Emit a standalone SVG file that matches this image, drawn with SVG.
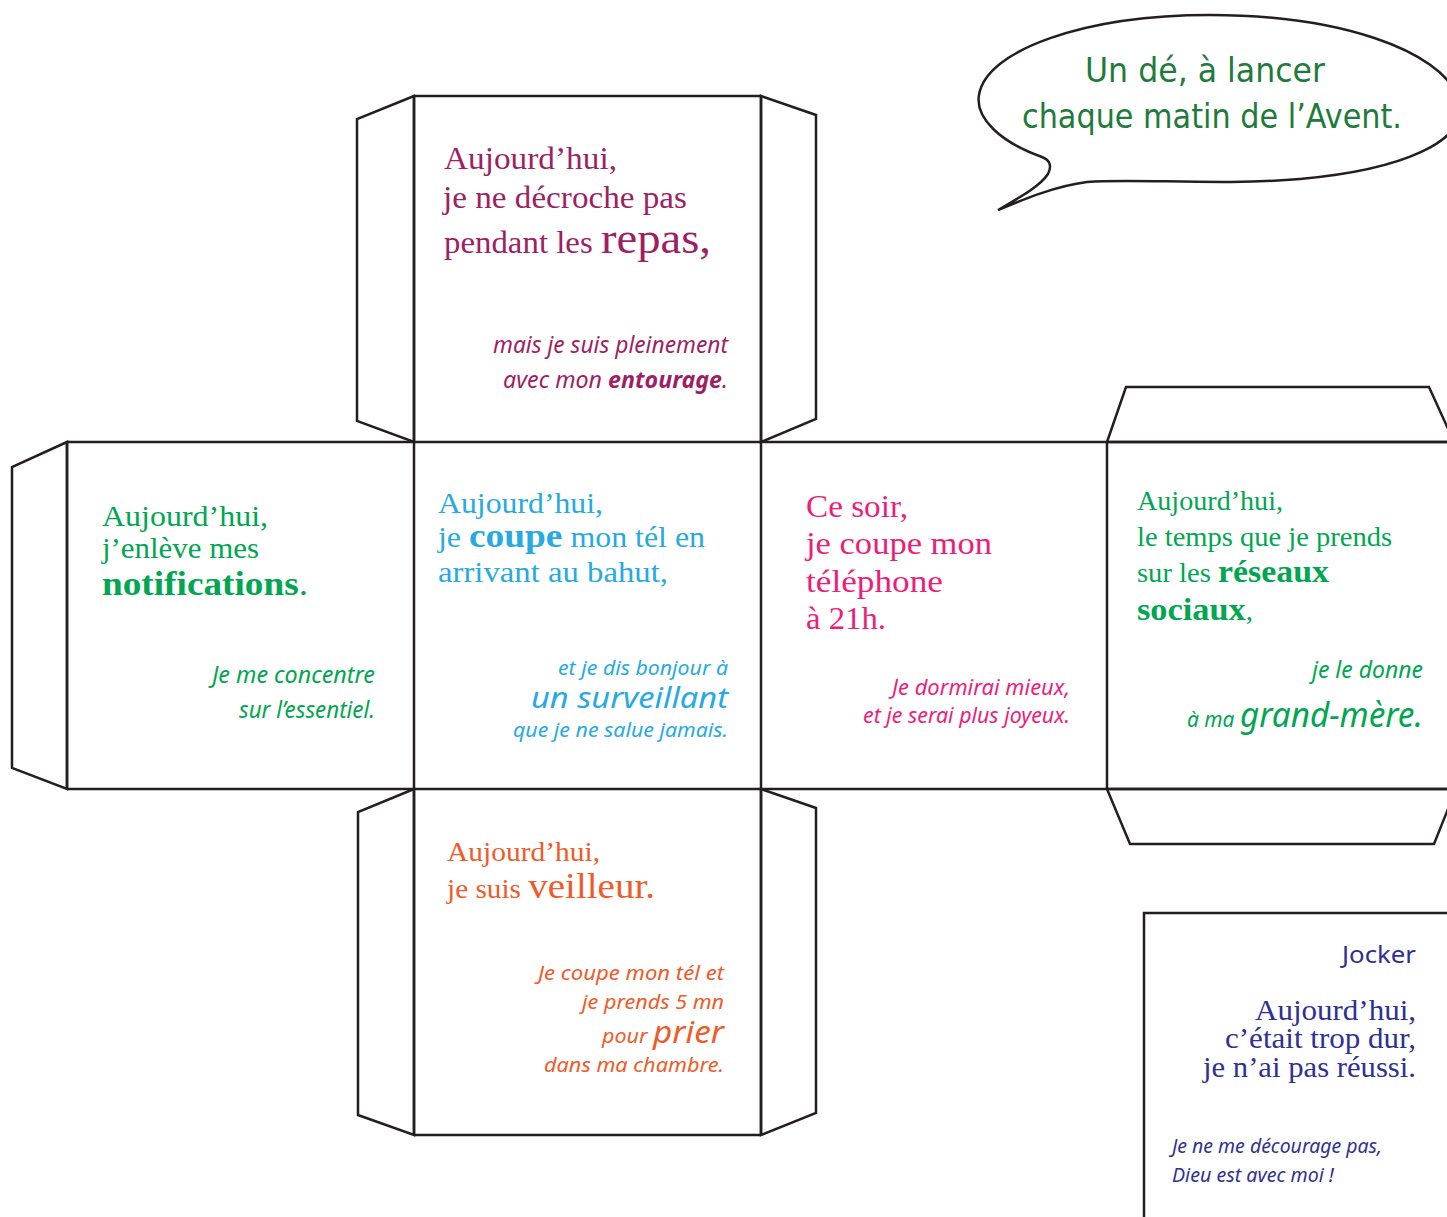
<svg xmlns="http://www.w3.org/2000/svg" width="1447" height="1217" viewBox="0 0 1447 1217">
<style>
.ln{fill:none;stroke:#231f20;stroke-width:2.5;stroke-linejoin:miter}
.tab{fill:#fff;stroke:#231f20;stroke-width:2.5;stroke-linejoin:miter}
.sr{font-family:"Liberation Serif",serif}
.it{font-family:"Noto Sans","Liberation Sans",sans-serif;font-style:italic}
.sa{font-family:"Noto Sans","Liberation Sans",sans-serif}
.b{font-weight:bold}
.hw{font-family:"DejaVu Sans","Liberation Sans",sans-serif;fill:#1e7b3c}
</style>
<rect width="1447" height="1217" fill="#fff"/>

<g id="bubble">
<path class="tab" d="M1042,157 C1000,142 975,118 979,95 C986,50 1085,15 1210,15 C1335,15 1440,48 1460,100 C1470,142 1400,170 1300,179 C1220,186 1135,178 1087,182 C1055,186 1022,200 998,210 C1022,196 1040,186 1048,174 C1052,166 1050,160 1042,157 Z"/>
<text class="hw" x="1085" y="82" font-size="33" textLength="240" lengthAdjust="spacingAndGlyphs">Un dé, à lancer</text>
<text class="hw" x="1022" y="128" font-size="33" textLength="380" lengthAdjust="spacingAndGlyphs">chaque matin de l’Avent.</text>
</g>

<g id="cube-lines">
<polygon class="tab" points="414,96 357,119 357,421 414,442"/>
<polygon class="tab" points="761,96 816,115 816,419 761,442"/>
<polygon class="tab" points="67,442 12,467 12,768 67,789"/>
<polygon class="tab" points="414,789 358,812 358,1115 414,1135"/>
<polygon class="tab" points="761,789 816,808 816,1113 761,1135"/>
<polygon class="tab" points="1107,442 1126,387 1429,387 1454,442"/>
<polygon class="tab" points="1107,789 1130,844 1434,844 1456,789"/>
<path class="ln" d="M414,96 H761 M67,442 H1447 M67,789 H1447 M414,1135 H761 M414,96 V1135 M761,96 V1135 M67,442 V789 M1107,442 V789"/>
</g>

<g id="face-top" fill="#9e1f63">
<text class="sr" x="444" y="169" font-size="31" textLength="173" lengthAdjust="spacingAndGlyphs">Aujourd’hui,</text>
<text class="sr" x="443" y="208" font-size="31" textLength="244" lengthAdjust="spacingAndGlyphs">je ne décroche pas</text>
<text class="sr" x="444" y="253" font-size="31" textLength="267" lengthAdjust="spacingAndGlyphs">pendant les <tspan font-size="44">repas,</tspan></text>
<text class="it" x="493" y="353" font-size="23" textLength="235" lengthAdjust="spacingAndGlyphs">mais je suis pleinement</text>
<text class="it" x="503" y="388" font-size="23" textLength="225" lengthAdjust="spacingAndGlyphs">avec mon <tspan class="b">entourage</tspan>.</text>
</g>

<g id="face-left" fill="#00a651">
<text class="sr" x="102" y="526" font-size="29" textLength="166" lengthAdjust="spacingAndGlyphs">Aujourd’hui,</text>
<text class="sr" x="102" y="558" font-size="29" textLength="157" lengthAdjust="spacingAndGlyphs">j’enlève mes</text>
<text class="sr" x="102" y="595" font-size="33" textLength="206" lengthAdjust="spacingAndGlyphs"><tspan class="b">notifications</tspan>.</text>
<text class="it" x="212" y="683" font-size="23" textLength="163" lengthAdjust="spacingAndGlyphs">Je me concentre</text>
<text class="it" x="239" y="718" font-size="23" textLength="136" lengthAdjust="spacingAndGlyphs">sur l’essentiel.</text>
</g>

<g id="face-center" fill="#27aae1">
<text class="sr" x="438" y="513" font-size="29" textLength="165" lengthAdjust="spacingAndGlyphs">Aujourd’hui,</text>
<text class="sr" x="438" y="547" font-size="29" textLength="267" lengthAdjust="spacingAndGlyphs">je <tspan class="b" font-size="34">coupe</tspan> mon tél en</text>
<text class="sr" x="438" y="582" font-size="29" textLength="230" lengthAdjust="spacingAndGlyphs">arrivant au bahut,</text>
<text class="it" x="558" y="675" font-size="20" textLength="170" lengthAdjust="spacingAndGlyphs">et je dis bonjour à</text>
<text class="it" x="531" y="708" font-size="29" textLength="197" lengthAdjust="spacingAndGlyphs">un surveillant</text>
<text class="it" x="513" y="737" font-size="20" textLength="215" lengthAdjust="spacingAndGlyphs">que je ne salue jamais.</text>
</g>

<g id="face-right1" fill="#ed1e79">
<text class="sr" x="806" y="517" font-size="31" textLength="102" lengthAdjust="spacingAndGlyphs">Ce soir,</text>
<text class="sr" x="806" y="554" font-size="31" textLength="186" lengthAdjust="spacingAndGlyphs">je coupe mon</text>
<text class="sr" x="806" y="592" font-size="31" textLength="137" lengthAdjust="spacingAndGlyphs">téléphone</text>
<text class="sr" x="806" y="629" font-size="31" textLength="80" lengthAdjust="spacingAndGlyphs">à 21h.</text>
<text class="it" x="892" y="695" font-size="21" textLength="178" lengthAdjust="spacingAndGlyphs">Je dormirai mieux,</text>
<text class="it" x="863" y="723" font-size="21" textLength="207" lengthAdjust="spacingAndGlyphs">et je serai plus joyeux.</text>
</g>

<g id="face-right2" fill="#00a651">
<text class="sr" x="1137" y="510" font-size="27" textLength="146" lengthAdjust="spacingAndGlyphs">Aujourd’hui,</text>
<text class="sr" x="1137" y="546" font-size="27" textLength="255" lengthAdjust="spacingAndGlyphs">le temps que je prends</text>
<text class="sr" x="1137" y="582" font-size="27" textLength="192" lengthAdjust="spacingAndGlyphs">sur les <tspan class="b" font-size="32">réseaux</tspan></text>
<text class="sr" x="1137" y="620" font-size="27" textLength="116" lengthAdjust="spacingAndGlyphs"><tspan class="b" font-size="32">sociaux</tspan>,</text>
<text class="it" x="1312" y="678" font-size="23" textLength="111" lengthAdjust="spacingAndGlyphs">je le donne</text>
<text class="it" x="1187" y="727" font-size="22" textLength="236" lengthAdjust="spacingAndGlyphs">à ma <tspan font-size="35">grand-mère.</tspan></text>
</g>

<g id="face-bottom" fill="#f15a29">
<text class="sr" x="447" y="861" font-size="27" textLength="153" lengthAdjust="spacingAndGlyphs">Aujourd’hui,</text>
<text class="sr" x="447" y="898" font-size="27" textLength="208" lengthAdjust="spacingAndGlyphs">je suis <tspan font-size="36">veilleur.</tspan></text>
<text class="it" x="538" y="980" font-size="20" textLength="186" lengthAdjust="spacingAndGlyphs">Je coupe mon tél et</text>
<text class="it" x="582" y="1009" font-size="20" textLength="142" lengthAdjust="spacingAndGlyphs">je prends 5 mn</text>
<text class="it" x="602" y="1043" font-size="20" textLength="122" lengthAdjust="spacingAndGlyphs">pour <tspan font-size="31">prier</tspan></text>
<text class="it" x="544" y="1072" font-size="20" textLength="180" lengthAdjust="spacingAndGlyphs">dans ma chambre.</text>
</g>

<g id="jocker" fill="#2e3192">
<path class="ln" d="M1144,1220 V913 H1450"/>
<text class="sa" x="1342" y="963" font-size="24" textLength="74" lengthAdjust="spacingAndGlyphs">Jocker</text>
<text class="sr" x="1255" y="1020" font-size="29" textLength="161" lengthAdjust="spacingAndGlyphs">Aujourd’hui,</text>
<text class="sr" x="1225" y="1048" font-size="29" textLength="191" lengthAdjust="spacingAndGlyphs">c’était trop dur,</text>
<text class="sr" x="1203" y="1077" font-size="29" textLength="213" lengthAdjust="spacingAndGlyphs">je n’ai pas réussi.</text>
<text class="it" x="1172" y="1153" font-size="19" textLength="210" lengthAdjust="spacingAndGlyphs">Je ne me décourage pas,</text>
<text class="it" x="1172" y="1182" font-size="19" textLength="162" lengthAdjust="spacingAndGlyphs">Dieu est avec moi !</text>
</g>
</svg>
